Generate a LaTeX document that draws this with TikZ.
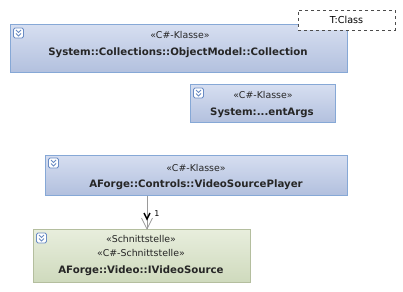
\documentclass[tikz,border=0pt]{standalone}
\usepackage{fontspec}
\setmainfont{DejaVu Sans}
\usetikzlibrary{arrows.meta,calc}
\definecolor{clsTop}{HTML}{D6DEF0}
\definecolor{clsBot}{HTML}{B2C0DE}
\definecolor{clsLine}{HTML}{86A8D6}
\definecolor{ifTop}{HTML}{E8EEDD}
\definecolor{ifBot}{HTML}{CFDABD}
\definecolor{ifLine}{HTML}{B4BE9E}
\definecolor{iconLine}{HTML}{6A8CC4}
\definecolor{edgeGray}{HTML}{9A9A9A}
\tikzset{
  clsbox/.style={draw=clsLine, line width=1pt, top color=clsTop, bottom color=clsBot, inner sep=0pt},
  ifbox/.style={draw=ifLine, line width=1pt, top color=ifTop, bottom color=ifBot, inner sep=0pt},
  stereo/.style={font=\fontsize{9.4}{10}\selectfont, inner sep=0pt, text=black!85},
  cname/.style={font=\fontsize{10.2}{11}\selectfont\bfseries, inner sep=0pt, text=black!85},
  tag/.style={draw=black!70, dashed, fill=white, line width=0.8pt, inner sep=0pt, minimum width=97pt, minimum height=20pt, font=\fontsize{9.6}{10}\selectfont},
  iconbox/.style={draw=iconLine, fill=white, rounded corners=1.5pt, line width=0.8pt, minimum size=10pt, inner sep=0pt},
  dep/.style={draw=edgeGray, line width=0.8pt}
}
\newcommand{\collapseicon}[2]{%
  \node[iconbox] (#1) at (#2) {};
  \draw[iconLine, line width=0.9pt] ($(#1)+(-2.5,-3)$) -- ($(#1)+(0,-0.5)$) -- ($(#1)+(2.5,-3)$);
  \draw[iconLine, line width=0.9pt] ($(#1)+(-2.5,0.5)$) -- ($(#1)+(0,3)$) -- ($(#1)+(2.5,0.5)$);
}
\begin{document}
\begin{tikzpicture}[x=1pt, y=-1pt]
\useasboundingbox (0,0) rectangle (403,291);

% System::Collections::ObjectModel::Collection
\node[clsbox, minimum width=337pt, minimum height=48pt] (coll) at (178.5,49) {};
\collapseicon{collicon}{18.5,33}
\node[stereo] (collst) at (180,35) {«C\#-Klasse»};
\node[cname] (collnm) at (178,53) {System::Collections::ObjectModel::Collection};

% template parameter
\node[tag] (tparam) at (346.5,20) {T:Class};

% System::...EventArgs
\node[clsbox, minimum width=145pt, minimum height=38pt] (args) at (262.5,104) {};
\collapseicon{argsicon}{198.5,93}
\node[stereo] (argsst) at (263,95) {«C\#-Klasse»};
\node[cname] (argsnm) at (262,113) {System:...entArgs};

% AForge::Controls::VideoSourcePlayer
\node[clsbox, minimum width=302pt, minimum height=40pt] (player) at (196,175) {};
\collapseicon{playericon}{53.5,163}
\node[stereo] (playerst) at (196,168) {«C\#-Klasse»};
\node[cname] (playernm) at (196,185) {AForge::Controls::VideoSourcePlayer};

% AForge::Video::IVideoSource
\node[ifbox, minimum width=217pt, minimum height=53pt] (src) at (141.5,255.5) {};
\collapseicon{srcicon}{41.5,238}
\node[stereo] (srcst1) at (141,239) {«Schnittstelle»};
\node[stereo] (srcst2) at (141,253) {«C\#-Schnittstelle»};
\node[cname] (srcnm) at (141,271) {AForge::Video::IVideoSource};

% association player -> video source
\coordinate (pfoot) at (147,195.5);
\coordinate (stop) at (147,229);
\draw[dep] (pfoot) -- (stop);
\draw[dep] ($(stop)+(-5.5,-11)$) -- (stop) -- ($(stop)+(5.5,-11)$);
\draw[black, line width=1.4pt] ($(stop)+(-3,-16)$) -- ($(stop)+(0,-10)$) -- ($(stop)+(3,-16)$);
\node[font=\fontsize{8}{8}\selectfont, inner sep=0pt] (mult) at (157,214) {1};
\end{tikzpicture}
\end{document}
